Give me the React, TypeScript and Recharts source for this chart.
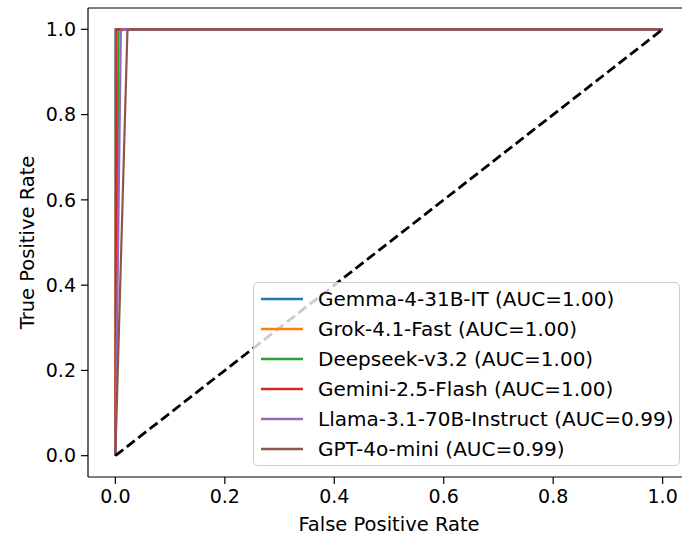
import React from "react";
import { LineChart, Line, XAxis, YAxis, ReferenceLine } from "recharts";

const seriesNames = [
  "Gemma-4-31B-IT (AUC=1.00)",
  "Grok-4.1-Fast (AUC=1.00)",
  "Deepseek-v3.2 (AUC=1.00)",
  "Gemini-2.5-Flash (AUC=1.00)",
  "Llama-3.1-70B-Instruct (AUC=0.99)",
  "GPT-4o-mini (AUC=0.99)",
];
const seriesColors = ["#1f77b4", "#ff7f0e", "#2ca02c", "#d62728", "#9467bd", "#8c564b"];

const fprGemma = [0, 0, 1];
const tprGemma = [0, 1, 1];
const fprGrok = [0, 0.001, 1];
const tprGrok = [0, 1, 1];
const fprDeepseek = [0, 0.006, 1];
const tprDeepseek = [0, 1, 1];
const fprGemini = [0, 0.002, 1];
const tprGemini = [0, 1, 1];
const fprLlama = [0, 0.01, 0.012, 1];
const tprLlama = [0, 0.993, 1, 1];
const fprGpt = [0, 0.022, 0.024, 1];
const tprGpt = [0, 0.995, 1, 1];

const diagFpr = [0, 1];
const diagTpr = [0, 1];

const xTicks = [0, 0.2, 0.4, 0.6, 0.8, 1.0];
const yTicks = [0, 0.2, 0.4, 0.6, 0.8, 1.0];

const toPoints = (xs: number[], ys: number[]) => xs.map((x, i) => ({ fpr: x, tpr: ys[i] }));

const curves = [
  toPoints(fprGemma, tprGemma),
  toPoints(fprGrok, tprGrok),
  toPoints(fprDeepseek, tprDeepseek),
  toPoints(fprGemini, tprGemini),
  toPoints(fprLlama, tprLlama),
  toPoints(fprGpt, tprGpt),
];
const diagonal = toPoints(diagFpr, diagTpr);

const FONT = "'DejaVu Sans', sans-serif";

const LegendBox = () => (
  <div
    style={{
      position: "absolute",
      left: 253,
      top: 282,
      background: "rgba(255,255,255,0.8)",
      border: "1px solid #cccccc",
      borderRadius: 5,
      boxSizing: "border-box",
      width: 427,
      height: 184,
      paddingTop: 1,
      fontFamily: FONT,
      fontSize: 20,
      color: "#000",
    }}
  >
    {seriesNames.map((name, i) => (
      <div key={name} style={{ display: "flex", alignItems: "center", height: 30, whiteSpace: "nowrap" }}>
        <svg width={64} height={10} style={{ flex: "none" }}>
          <line x1={7} x2={49} y1={5} y2={5} stroke={seriesColors[i]} strokeWidth={2.5} />
        </svg>
        <span>{name}</span>
      </div>
    ))}
  </div>
);

const YLabel = (props: any) => {
  const vb = props.viewBox || { x: 0, y: 0, width: 0, height: 0 };
  const cx = 27;
  const cy = vb.y + vb.height / 2;
  return (
    <text
      x={cx}
      y={cy}
      transform={`rotate(-90 ${cx} ${cy})`}
      textAnchor="middle"
      dominantBaseline="central"
      fontFamily={FONT}
      fontSize={19.5}
      fill="#000"
    >
      True Positive Rate
    </text>
  );
};

const XLabel = (props: any) => {
  const vb = props.viewBox || { x: 0, y: 0, width: 0, height: 0 };
  return (
    <text
      x={vb.x + vb.width / 2}
      y={vb.y + 47}
      textAnchor="middle"
      dominantBaseline="central"
      fontFamily={FONT}
      fontSize={19.5}
      fill="#000"
    >
      False Positive Rate
    </text>
  );
};

export default function App() {
  return (
    <div
      style={{
        position: "absolute",
        left: 0,
        top: 0,
        width: 682,
        height: 539,
        overflow: "hidden",
        background: "#fff",
      }}
    >
      <LineChart width={700} height={539} margin={{ top: 8, right: 10, bottom: 0, left: 0 }}>
        <XAxis
          xAxisId="main"
          dataKey="fpr"
          type="number"
          domain={[-0.05, 1.05]}
          ticks={xTicks}
          tickFormatter={(v: number) => v.toFixed(1)}
          allowDataOverflow
          height={62}
          stroke="#000"
          tickSize={7}
          tick={{ fill: "#000", fontFamily: FONT, fontSize: 19, dy: 4 }}
          axisLine={{ stroke: "#000", strokeWidth: 1.2 }}
          tickLine={{ stroke: "#000", strokeWidth: 1.2 }}
          label={<XLabel />}
        />
        <YAxis
          yAxisId="main"
          type="number"
          domain={[-0.05, 1.05]}
          ticks={yTicks}
          tickFormatter={(v: number) => v.toFixed(1)}
          allowDataOverflow
          width={88}
          stroke="#000"
          tickSize={7}
          tick={{ fill: "#000", fontFamily: FONT, fontSize: 19, dx: -3 }}
          axisLine={{ stroke: "#000", strokeWidth: 1.2 }}
          tickLine={{ stroke: "#000", strokeWidth: 1.2 }}
          label={<YLabel />}
        />
        <ReferenceLine
          xAxisId="main"
          yAxisId="main"
          y={1.05}
          stroke="#000"
          strokeWidth={1.2}
          ifOverflow="visible"
        />
        {curves.map((d, i) => (
          <Line
            key={seriesNames[i]}
            xAxisId="main"
            yAxisId="main"
            data={d}
            dataKey="tpr"
            name={seriesNames[i]}
            type="linear"
            stroke={seriesColors[i]}
            strokeWidth={2.2}
            dot={false}
            activeDot={false}
            isAnimationActive={false}
          />
        ))}
        <Line
          xAxisId="main"
          yAxisId="main"
          data={diagonal}
          dataKey="tpr"
          name="diagonal"
          legendType="none"
          type="linear"
          stroke="#000"
          strokeWidth={2.8}
          strokeDasharray="10 4.5"
          dot={false}
          activeDot={false}
          isAnimationActive={false}
        />
      </LineChart>
      <LegendBox />
    </div>
  );
}
